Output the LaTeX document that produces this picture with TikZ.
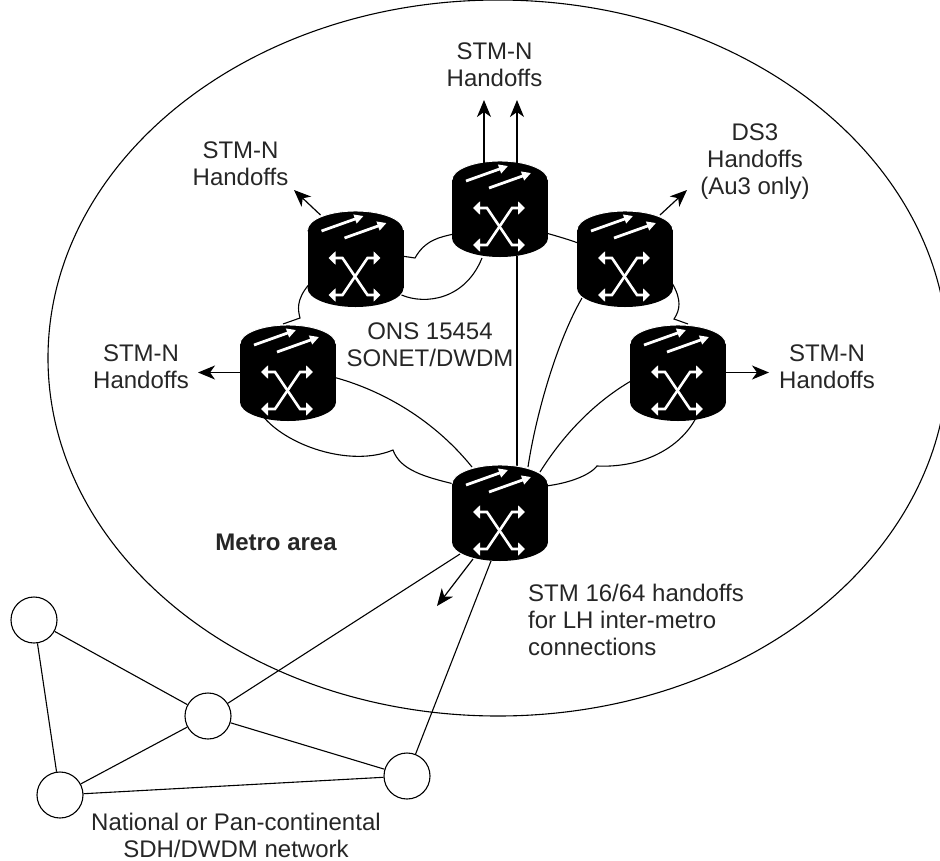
\documentclass[tikz,border=0pt]{standalone}
\usepackage{fontspec}
\setmainfont{Liberation Sans}
\usetikzlibrary{arrows.meta,calc,backgrounds}
\tikzset{
  x=1pt,y=-1pt,
  link/.style={draw=black,line width=1.1pt},
  handoff/.style={draw=black,line width=1.2pt,-{Stealth[length=17pt,width=14pt,inset=5pt]}},
  whitearrow/.style={draw=white,line width=2.8pt,-{Triangle[length=9pt,width=9pt]}},
  whitedouble/.style={draw=white,line width=2.6pt,{Triangle[length=7pt,width=13pt]}-{Triangle[length=7pt,width=13pt]}},
  hub/.style={circle,draw=black,fill=white,line width=1.1pt,minimum size=46pt,inner sep=0pt},
  lbl/.style={align=center,font=\fontsize{24}{27}\selectfont,text=black!85,inner sep=0pt},
  router/.style={rectangle,minimum width=98pt,minimum height=98pt,inner sep=0pt,path picture={
    \fill[black] (-48,-29) rectangle (48,29);
    \fill[black] (0,-29) ellipse [x radius=48,y radius=19];
    \fill[black] (0,29) ellipse [x radius=48,y radius=19];
    \draw[white,line width=0.9pt] (-48,-29) arc [start angle=180,end angle=360,x radius=48,y radius=19];
    \draw[whitearrow] (-34,-28) -- (8,-43);
    \draw[whitearrow] (-11,-21) -- (31,-36);
    \draw[whitedouble,line join=miter] (-27,-1) -- (-13,-1) -- (12,36) -- (25,36);
    \draw[whitedouble,line join=miter] (-27,36) -- (-13,36) -- (12,-1) -- (25,-1);
  }},
}
\begin{document}
\begin{tikzpicture}
\useasboundingbox (0,0) rectangle (940,860);
\clip (0,0) rectangle (940,860);
\draw[black,line width=1.1pt] (498,358) ellipse [x radius=450,y radius=358];

\node[router] (rb) at (500,513) {};
\node[router] (rt) at (500,209) {};
\node[router] (rl) at (355.5,259) {};
\node[router] (rr) at (625,259) {};
\node[router] (ra) at (288,373) {};
\node[router] (re) at (678,373) {};

\node[hub] (c1) at (34,620) {};
\node[hub] (c2) at (208,716) {};
\node[hub] (c3) at (60,795) {};
\node[hub] (c4) at (407,776) {};

\begin{scope}[on background layer]
\draw[link] (c1) -- (c2);
\draw[link] (c1) -- (c3);
\draw[link] (c2) -- (c3);
\draw[link] (c2) -- (c4);
\draw[link] (c3) -- (c4);
\draw[link] (c2) -- ($(rb)+(-40,41)$);
\draw[link] (c4) -- ($(rb)+(-9,48)$);

\draw[link] ($(ra)+(45,4)$) .. controls (375,388) and (430,415) .. ($(rb)+(-28,-46)$);
\draw[link] ($(ra)+(-26,42)$) .. controls (285,445) and (350,468) .. (393,450)
            .. controls (400,470) and (425,477) .. ($(rb)+(-46,-29)$);
\draw[link] ($(rb)+(46,-27)$) .. controls (570,483) and (590,475) .. (597,466)
            .. controls (640,468) and (680,450) .. ($(re)+(19,43)$);
\draw[link] ($(re)+(-47,8)$) .. controls (590,405) and (560,440) .. ($(rb)+(40,-41)$);
\draw[link] ($(rr)+(-43,39)$) .. controls (555,345) and (535,420) .. ($(rb)+(28,-46)$);
\draw[link] ($(rt)+(17,47)$) -- ($(rb)+(17,-47)$);
\draw[link] ($(rl)+(46,-3)$) -- (415,258) .. controls (425,240) and (440,237) .. ($(rt)+(-46,25)$);
\draw[link] ($(rl)+(46,36)$) .. controls (425,305) and (465,300) .. ($(rt)+(-18,49)$);
\draw[link] ($(rl)+(-47,26)$) .. controls (296,300) and (298,310) .. (300,318) -- ($(ra)+(-5,-49)$);
\draw[link] ($(rt)+(46,24)$) .. controls (560,237) and (570,240) .. ($(rr)+(-47,-16)$);
\draw[link] ($(rr)+(47,24)$) .. controls (682,300) and (680,310) .. (674,319) -- ($(re)+(10,-49)$);
\end{scope}

\coordinate (tipa) at (484,100);
\coordinate (tipb) at (517,100);
\coordinate (tipl) at (294,190);
\coordinate (tipr) at (687,190);
\coordinate (tipw) at (198,372.5);
\coordinate (tipe) at (769,372.5);
\coordinate (tips) at (437,606);
\draw[handoff] ($(rt)+(-16,-46)$) -- (tipa);
\draw[handoff] ($(rt)+(17,-46)$) -- (tipb);
\draw[handoff] ($(rl)+(-35,-44)$) -- (tipl);
\draw[handoff] ($(rr)+(35,-44)$) -- (tipr);
\draw[handoff] ($(ra)+(-48,-0.5)$) -- (tipw);
\draw[handoff] ($(re)+(48,-0.5)$) -- (tipe);
\draw[handoff] ($(rb)+(-27,46)$) -- (tips);

\node[lbl] (t1) at (494.5,65) {STM-N\\Handoffs};
\node[lbl] (t2) at (240.5,163.5) {STM-N\\Handoffs};
\node[lbl] (t3) at (755,161.5) {DS3\\Handoffs\\(Au3 only)};
\node[lbl] (t4) at (141,366.5) {STM-N\\Handoffs};
\node[lbl] (t5) at (827,366.5) {STM-N\\Handoffs};
\node[lbl] (t6) at (430,345) {ONS 15454\\SONET/DWDM};
\node[lbl,font=\fontsize{24}{27}\selectfont\bfseries] (t7) at (276,542) {Metro area};
\node[lbl,align=left,anchor=west] (t8) at (528,620) {STM 16/64 handoffs\\for LH inter-metro\\connections};
\node[lbl] (t9) at (236,835.5) {National or Pan-continental\\SDH/DWDM network};
\end{tikzpicture}
\end{document}
